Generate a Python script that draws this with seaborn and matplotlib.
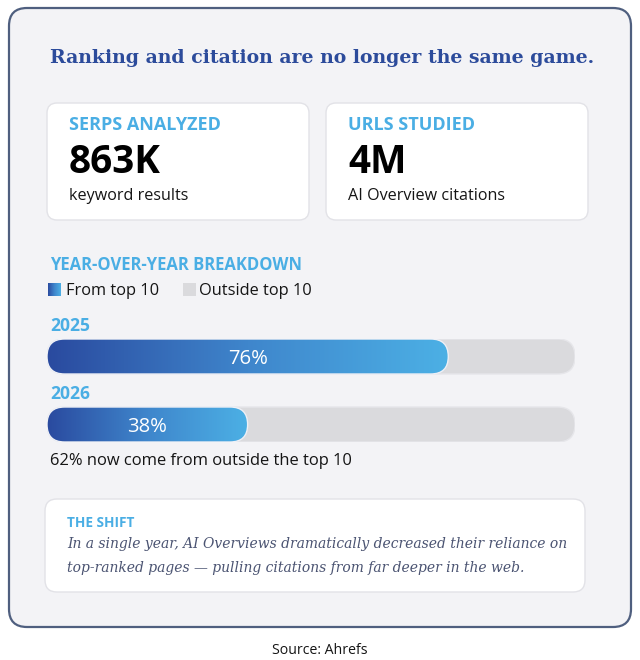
import numpy as np
import pandas as pd
import matplotlib
matplotlib.use("Agg")
import matplotlib.pyplot as plt
from matplotlib.patches import FancyBboxPatch, Rectangle
from matplotlib.colors import LinearSegmentedColormap
import seaborn as sns

# data
title = "Ranking and citation are no longer the same game."
stat_labels = ["SERPS ANALYZED", "URLS STUDIED"]
stat_values = ["863K", "4M"]
stat_notes = ["keyword results", "AI Overview citations"]
years = ["2025", "2026"]
from_top10 = [76, 38]
legend_labels = ["From top 10", "Outside top 10"]
shift_head = "THE SHIFT"
shift_lines = ["In a single year, AI Overviews dramatically decreased their reliance on",
               "top-ranked pages \u2014 pulling citations from far deeper in the web."]
source = "Source: Ahrefs"

# colours
CARD_BG = "#f3f3f6"
CARD_EDGE = "#4f5f7f"
TITLE_C = "#2c4b9b"
LIGHT_BLUE = "#4aaee4"
TRACK = "#dadadd"
DARK = "#151515"
ITALIC_C = "#4b5472"
grad_cmap = LinearSegmentedColormap.from_list("bar", ["#2a4a9f", "#3f86cc", "#4cb0e5"])

sns.set_theme(style="white")
plt.rcParams["font.family"] = ["Open Sans", "DejaVu Sans"]
SERIF = ["DejaVu Serif"]

W, H = 640, 660
fig = plt.figure(figsize=(W / 100, H / 100), dpi=100)
fig.patch.set_facecolor("white")
bg = fig.add_axes([0, 0, 1, 1])
bg.set_xlim(0, W)
bg.set_ylim(H, 0)
bg.axis("off")


def rbox(ax, x0, y0, x1, y1, r, fc, ec, lw, z=1):
    p = FancyBboxPatch((x0, y0), x1 - x0, y1 - y0,
                       boxstyle=f"round,pad=0,rounding_size={r}",
                       fc=fc, ec=ec, lw=lw, zorder=z)
    ax.add_patch(p)
    return p


# outer card
rbox(bg, 9, 8, 631, 627, 18, CARD_BG, CARD_EDGE, 1.6)
bg.text(322, 63, title, ha="center", va="baseline", fontsize=13.6,
        fontweight="bold", family=SERIF, color=TITLE_C)

# stat cards
for i, x0 in enumerate([47, 326]):
    rbox(bg, x0, 103, x0 + 262, 220, 10, "white", "#e2e2e7", 1, z=2)
    bg.text(x0 + 22, 130, stat_labels[i], fontsize=13, fontweight="bold",
            color=LIGHT_BLUE, va="baseline", zorder=3)
    bg.text(x0 + 22, 173, stat_values[i], fontsize=27.8, fontweight="bold",
            color="black", va="baseline", zorder=3)
    bg.text(x0 + 22, 200, stat_notes[i], fontsize=11.6, color=DARK,
            va="baseline", zorder=3)

# breakdown header + legend
bg.text(50, 270, "YEAR-OVER-YEAR BREAKDOWN", fontsize=12, fontweight="bold",
        color=LIGHT_BLUE, va="baseline")
grad = np.linspace(0, 1, 256).reshape(1, -1)
bg.imshow(grad, extent=(48, 61, 296, 283), cmap=grad_cmap, aspect="auto", zorder=3)
bg.add_patch(Rectangle((183, 283), 13, 13, fc=TRACK, ec="none", zorder=3))
bg.text(66, 295, legend_labels[0], fontsize=11.8, color=DARK, va="baseline")
bg.text(199, 295, legend_labels[1], fontsize=11.8, color=DARK, va="baseline")
bg.set_xlim(0, W)
bg.set_ylim(H, 0)

for yr, yb in zip(years, [331, 399]):
    bg.text(50, yb, yr, fontsize=12.6, fontweight="bold", color=LIGHT_BLUE, va="baseline")

# bars
bx0, bx1, by0, by1 = 47, 575, 339, 442
axb = fig.add_axes([bx0 / W, 1 - by1 / H, (bx1 - bx0) / W, (by1 - by0) / H])
axb.patch.set_visible(False)
df = pd.DataFrame({"year": years, "from_top10": from_top10, "total": [100] * len(years)})
bar_h = 35 / 68
sns.barplot(data=df, y="year", x="total", color=TRACK, width=bar_h, orient="h", ax=axb)
n_track = len(axb.patches)
sns.barplot(data=df, y="year", x="from_top10", color="#3a78c4", width=bar_h, orient="h", ax=axb)

xppu = (bx1 - bx0) / 100
yppu = 68
asp = xppu / yppu
for k, p in enumerate(list(axb.patches)):
    x, y = p.get_xy()
    w, h = p.get_width(), p.get_height()
    r = (h * yppu / 2) / xppu
    p.set_visible(False)
    if k < n_track:
        axb.add_patch(FancyBboxPatch((x, y), w, h, boxstyle=f"round,pad=0,rounding_size={r}",
                                     mutation_aspect=asp, fc=TRACK, ec="#e6e6ea", lw=1, zorder=1))
    else:
        clip = FancyBboxPatch((x, y), w, h, boxstyle=f"round,pad=0,rounding_size={r}",
                              mutation_aspect=asp, fc="none", ec="#eef0f6", lw=1, zorder=3)
        axb.add_patch(clip)
        axb.imshow(grad, extent=(x, x + w, y + h, y), cmap=grad_cmap, aspect="auto",
                   clip_path=clip, zorder=2)

for i, v in enumerate(from_top10):
    axb.text(v / 2, i + 0.11, f"{v}%", ha="center", va="baseline", fontsize=14.6,
             color="white", zorder=4)

axb.set_xlim(0, 100)
axb.set_ylim(1 + 17.5 / 68, -17.5 / 68)
axb.axis("off")

bg.text(50, 465, f"{100 - from_top10[-1]}% now come from outside the top 10",
        fontsize=11.9, color=DARK, va="baseline")

# shift box
rbox(bg, 45, 499, 585, 592, 12, "white", "#e2e2e7", 1, z=2)
bg.text(67, 527, shift_head, fontsize=9.8, fontweight="bold", color=LIGHT_BLUE,
        va="baseline", zorder=3)
for line, yb in zip(shift_lines, [548, 572]):
    bg.text(67, yb, line, fontsize=10, style="italic", family=SERIF, color=ITALIC_C,
            va="baseline", zorder=3)

bg.text(320, 654, source, ha="center", va="baseline", fontsize=10.2, color=DARK)

fig.savefig("out.png", dpi=100)
